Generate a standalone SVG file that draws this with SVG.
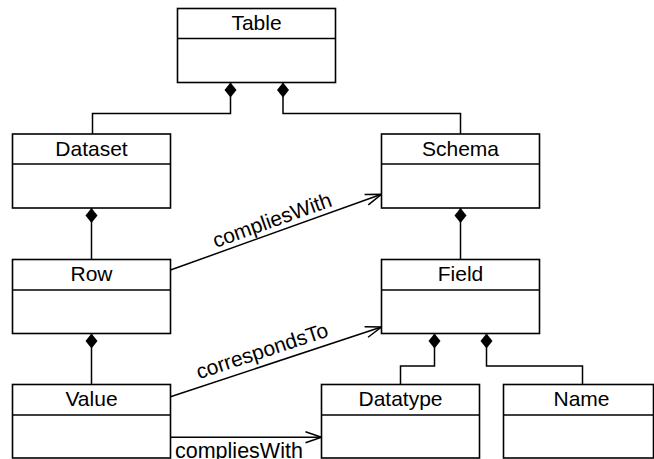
<svg xmlns="http://www.w3.org/2000/svg" width="654" height="459" viewBox="0 0 654 459">
<defs>
<style>
.box{fill:#fff;stroke:#000;stroke-width:1.6}
.dv{stroke:#000;stroke-width:1.6}
.t{font-family:"Liberation Sans",Arial,Helvetica,sans-serif;font-size:21px;fill:#000;text-anchor:middle}
.c{fill:none;stroke:#000;stroke-width:1.5}
.comp{marker-start:url(#diamond)}
.assoc{marker-end:url(#arrow)}
.lbl{font-family:"Liberation Sans",Arial,Helvetica,sans-serif;font-size:21px;fill:#000}
</style>
<marker id="diamond" markerUnits="userSpaceOnUse" markerWidth="16" markerHeight="13" refX="0" refY="0" orient="auto" overflow="visible"><path d="M0,0 L7.5,-6 L15,0 L7.5,6 Z" fill="#000"/></marker>
<marker id="arrow" markerUnits="userSpaceOnUse" markerWidth="17" markerHeight="12" refX="0" refY="0" orient="auto" overflow="visible"><path d="M-16,-5.5 L0,0 L-16,5.5" fill="none" stroke="#000" stroke-width="1.5"/></marker>
</defs>
<rect width="654" height="459" fill="#fff"/>
<g id="connectors">
<path class="c comp" d="M230.5,82.5 V113.5 H92.5 V134"/>
<path class="c comp" d="M283,82.5 V113.5 H460.5 V134"/>
<path class="c comp" d="M91.5,208 V259.5"/>
<path class="c comp" d="M460.5,208 V259.5"/>
<path class="c comp" d="M91.5,333.5 V384.5"/>
<path class="c comp" d="M434.5,333.5 V366 H400.5 V384.5"/>
<path class="c comp" d="M486.5,333.5 V366 H582.5 V384.5"/>
<path class="c assoc" d="M170.5,270 L381.5,194.3"/>
<path class="c assoc" d="M170.5,396.7 L381.5,327"/>
<path class="c assoc" d="M170.5,437.3 H321.5"/>
<text class="lbl" text-anchor="middle" x="274.5" y="226.9" transform="rotate(-19.73 274.5 226.9)">compliesWith</text>
<text class="lbl" text-anchor="middle" x="264.3" y="357.6" transform="rotate(-18.28 264.3 357.6)">correspondsTo</text>
<text class="lbl" x="175" y="457.5" style="font-size:21.5px">compliesWith</text>
</g>
<g id="table">
<rect class="box" x="177.5" y="8.5" width="158" height="74"/>
<line class="dv" x1="177.5" y1="38.5" x2="335.5" y2="38.5"/>
<text class="t" x="256.5" y="30">Table</text>
</g>
<g id="dataset">
<rect class="box" x="12.5" y="134" width="158" height="74"/>
<line class="dv" x1="12.5" y1="164" x2="170.5" y2="164"/>
<text class="t" x="91.5" y="155.5">Dataset</text>
</g>
<g id="schema">
<rect class="box" x="381.5" y="134" width="158" height="74"/>
<line class="dv" x1="381.5" y1="164" x2="539.5" y2="164"/>
<text class="t" x="460.5" y="155.5">Schema</text>
</g>
<g id="row">
<rect class="box" x="12.5" y="259.5" width="158" height="74"/>
<line class="dv" x1="12.5" y1="290" x2="170.5" y2="290"/>
<text class="t" x="91.5" y="281">Row</text>
</g>
<g id="field">
<rect class="box" x="381.5" y="259.5" width="158" height="74"/>
<line class="dv" x1="381.5" y1="290" x2="539.5" y2="290"/>
<text class="t" x="460.5" y="281">Field</text>
</g>
<g id="value">
<rect class="box" x="12.5" y="384.5" width="158" height="73.5"/>
<line class="dv" x1="12.5" y1="415" x2="170.5" y2="415"/>
<text class="t" x="91.5" y="406">Value</text>
</g>
<g id="datatype">
<rect class="box" x="321.5" y="384.5" width="158" height="73.5"/>
<line class="dv" x1="321.5" y1="415" x2="479.5" y2="415"/>
<text class="t" x="400.5" y="406">Datatype</text>
</g>
<g id="name">
<rect class="box" x="503.5" y="384.5" width="150" height="73.5"/>
<line class="dv" x1="503.5" y1="415" x2="653.5" y2="415"/>
<text class="t" x="581.5" y="406">Name</text>
</g>
</svg>
